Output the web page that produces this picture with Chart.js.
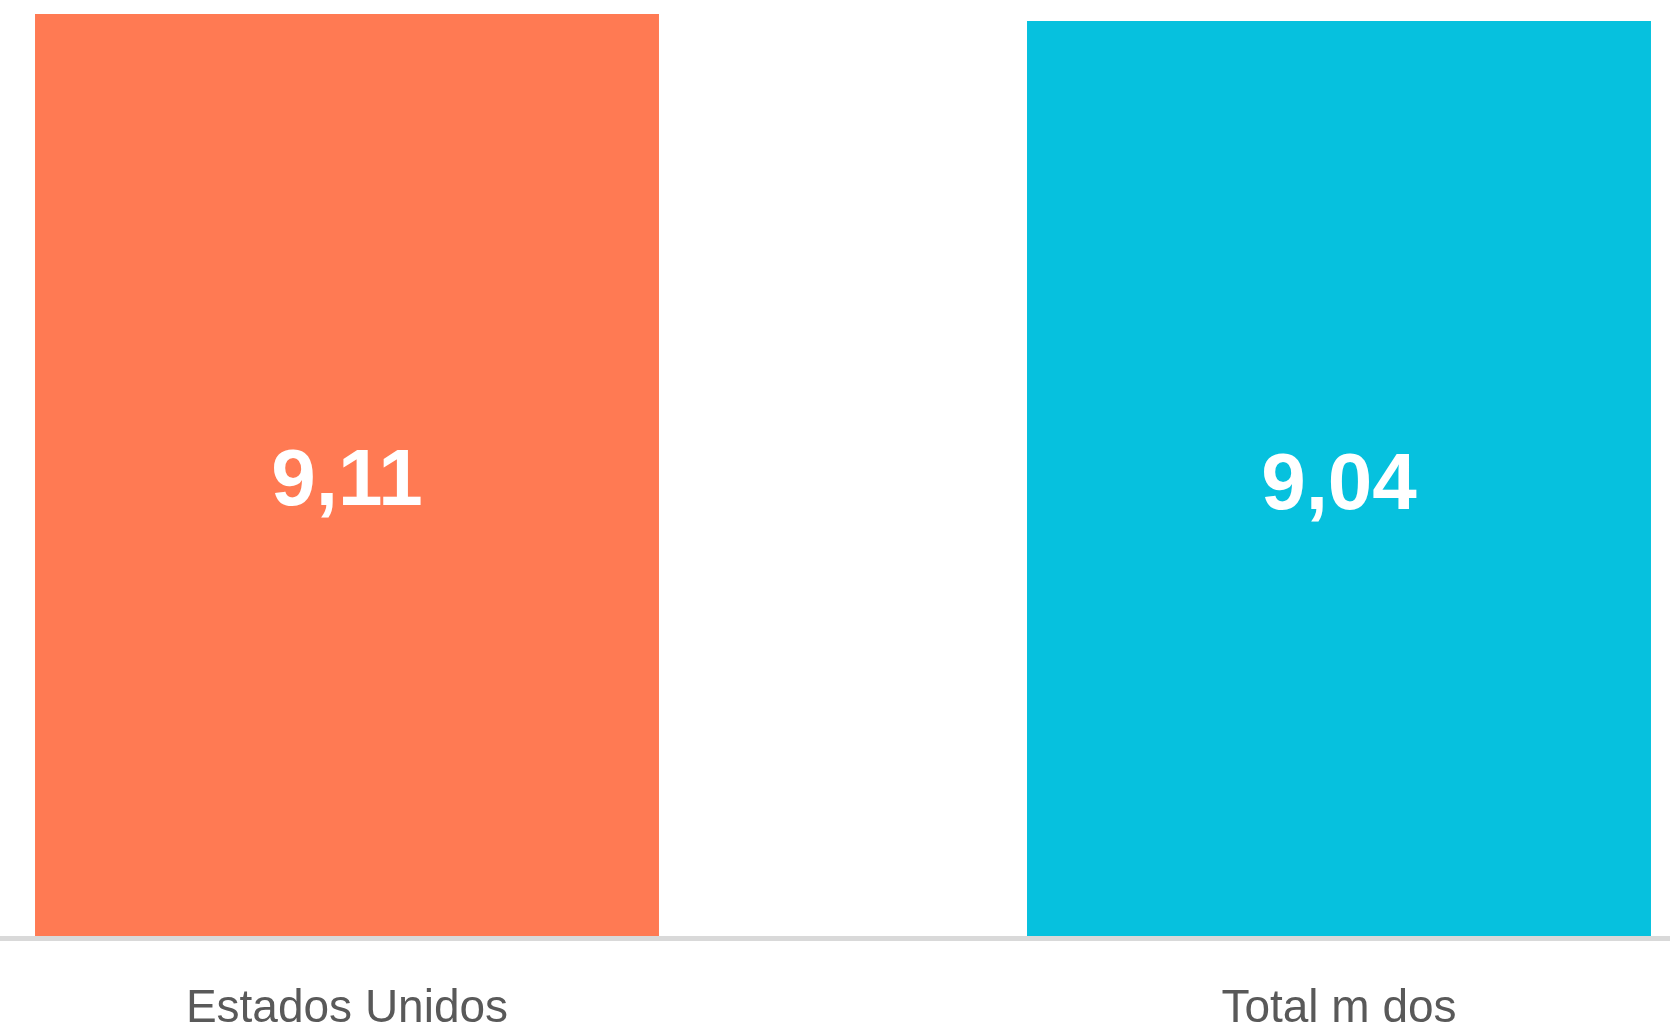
<!DOCTYPE html>
<html>
<head>
<meta charset="utf-8">
<script src="https://cdn.jsdelivr.net/npm/chart.js@4.4.0/dist/chart.umd.min.js"></script>
<style>
    html, body { margin: 0; padding: 0; background: #ffffff; }
    #wrap { width: 1670px; height: 1032px; position: relative; }
</style>
</head>
<body>
<div id="wrap"><canvas id="grafico"></canvas></div>
<script>
// Dados do gráfico
const categorias = ['Estados Unidos', 'Total m dos'];
const valores = [9.11, 9.04];
const cores = ['#FF7A53', '#06C1DE'];

// Rótulos de valor no centro de cada barra
const rotulosValor = {
    id: 'rotulosValor',
    afterDatasetsDraw(chart) {
        const ctx = chart.ctx;
        const meta = chart.getDatasetMeta(0);
        ctx.save();
        ctx.fillStyle = '#ffffff';
        ctx.font = 'bold 80px "Liberation Sans", Arial, sans-serif';
        ctx.textAlign = 'center';
        ctx.textBaseline = 'middle';
        meta.data.forEach((bar, i) => {
            const { x, y, base } = bar.getProps(['x', 'y', 'base'], true);
            const texto = valores[i].toFixed(2).replace('.', ',');
            ctx.fillText(texto, x, (y + base) / 2 + 8);
        });
        ctx.restore();
    }
};

// Linha de base cinza em toda a largura
const linhaBase = {
    id: 'linhaBase',
    afterDatasetsDraw(chart) {
        const ctx = chart.ctx;
        const y0 = chart.scales.y.getPixelForValue(0);
        ctx.save();
        ctx.strokeStyle = '#D9D9D9';
        ctx.lineWidth = 5;
        ctx.beginPath();
        ctx.moveTo(0, y0 + 2.5);
        ctx.lineTo(chart.width, y0 + 2.5);
        ctx.stroke();
        ctx.restore();
    }
};

const ctx = document.getElementById('grafico').getContext('2d');
new Chart(ctx, {
    type: 'bar',
    data: {
        labels: categorias,
        datasets: [{
            data: valores,
            backgroundColor: cores,
            borderWidth: 0,
            categoryPercentage: 1,
            barPercentage: 0.629,
            clip: false
        }]
    },
    options: {
        responsive: true,
        maintainAspectRatio: false,
        animation: false,
        layout: {
            padding: { left: 347, right: 331, top: 14, bottom: 0 }
        },
        plugins: {
            legend: { display: false },
            tooltip: { enabled: false }
        },
        scales: {
            x: {
                offset: false,
                grid: { display: false, drawTicks: false },
                border: { display: false },
                ticks: {
                    color: '#595959',
                    padding: 46,
                    maxRotation: 0,
                    font: { family: '"Liberation Sans", Arial, sans-serif', size: 46 }
                },
                afterFit: (scale) => { scale.height = 96; }
            },
            y: {
                display: false,
                min: 0,
                max: 9.11
            }
        }
    },
    plugins: [rotulosValor, linhaBase]
});
</script>
</body>
</html>
